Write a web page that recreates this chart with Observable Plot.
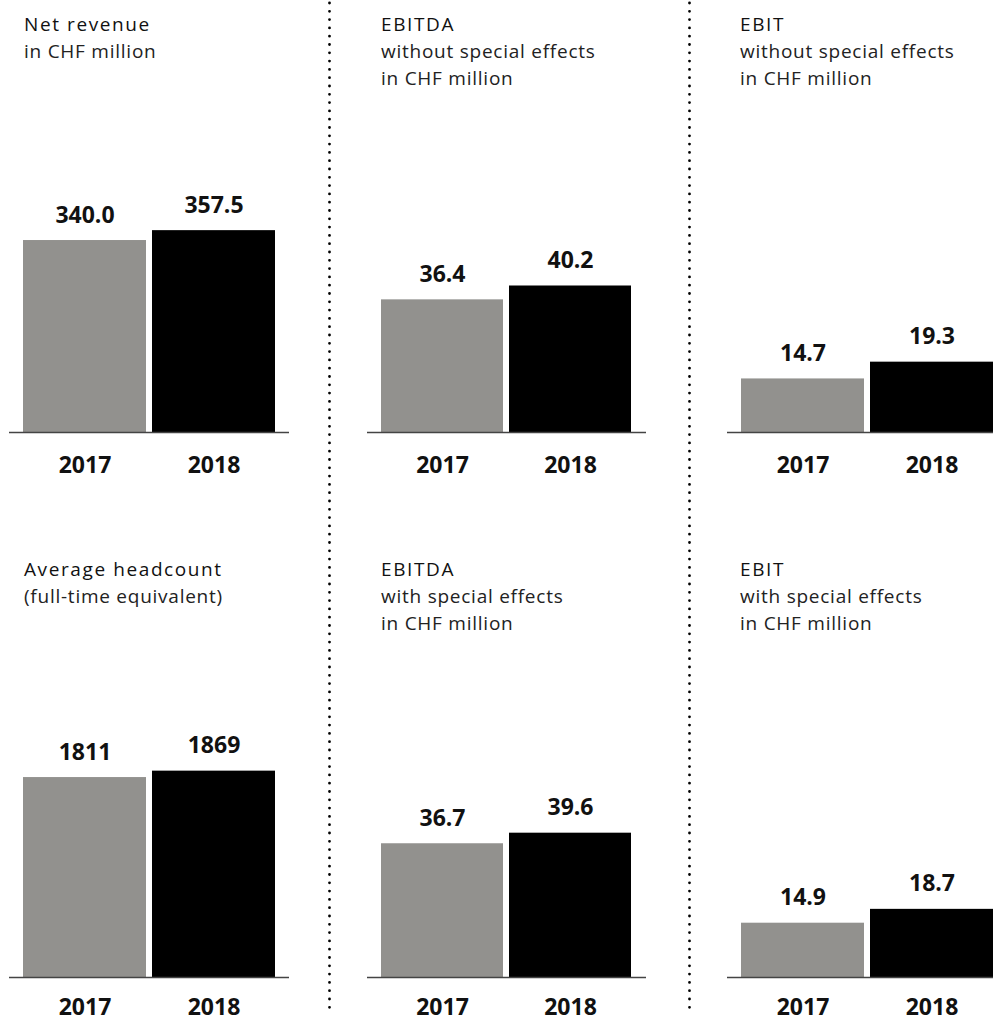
<!DOCTYPE html>
<html>
<head>
<meta charset="utf-8">
<script src="https://cdn.jsdelivr.net/npm/d3@7"></script>
<script src="https://cdn.jsdelivr.net/npm/@observablehq/plot@0.6"></script>
<style>
html, body { margin: 0; padding: 0; background: #fff; overflow: hidden; }
#root { position: relative; width: 993px; height: 1015px; overflow: hidden; font-family: "Open Sans", sans-serif; }
.title { position: absolute; font-size: 19px; line-height: 27px; white-space: nowrap; }
.title .main { color: #111; font-weight: 500; letter-spacing: 1.6px; }
.title .sub { color: #222; font-weight: 400; letter-spacing: 0.75px; }
.panel { position: absolute; }
.sep { position: absolute; left: 0; top: 0; }
</style>
</head>
<body>
<div id="root"></div>
<script>
// ---- data ----
const years = ["2017", "2018"];
const netRevenue = [340.0, 357.5];
const ebitdaWithout = [36.4, 40.2];
const ebitWithout = [14.7, 19.3];
const headcount = [1811, 1869];
const ebitdaWith = [36.7, 39.6];
const ebitWith = [14.9, 18.7];

const titleNetRevenue = ["Net revenue", "in CHF million"];
const titleEbitdaWithout = ["EBITDA", "without special effects", "in CHF million"];
const titleEbitWithout = ["EBIT", "without special effects", "in CHF million"];
const titleHeadcount = ["Average headcount", "(full-time equivalent)"];
const titleEbitdaWith = ["EBITDA", "with special effects", "in CHF million"];
const titleEbitWith = ["EBIT", "with special effects", "in CHF million"];

const barColors = ["#92918e", "#000000"];

// ---- layout ----
const colLeft = [0, 331, 690];
const colWidth = [331, 359, 330];
const colMarginLeft = [9, 36, 37];
const colMarginRight = [42, 44, 13];
const colTitleLeft = [24, 381, 740];
const rowSvgTop = [100, 645];
const rowTitleTop = [11, 556];
const rowTickPadding = [24, 21];
const svgHeight = 390;
const marginBottom = 58;

const panels = [
  {values: netRevenue, title: titleNetRevenue, yMax: 588, digits: 1, row: 0, col: 0},
  {values: ebitdaWithout, title: titleEbitdaWithout, yMax: 91.1, digits: 1, row: 0, col: 1},
  {values: ebitWithout, title: titleEbitWithout, yMax: 91.1, digits: 1, row: 0, col: 2},
  {values: headcount, title: titleHeadcount, yMax: 3007, digits: 0, row: 1, col: 0},
  {values: ebitdaWith, title: titleEbitdaWith, yMax: 91.1, digits: 1, row: 1, col: 1},
  {values: ebitWith, title: titleEbitWith, yMax: 91.1, digits: 1, row: 1, col: 2}
];

const root = document.getElementById("root");

for (const p of panels) {
  const data = years.map((y, i) => ({year: y, value: p.values[i]}));
  const chart = Plot.plot({
    width: colWidth[p.col],
    height: svgHeight,
    marginLeft: colMarginLeft[p.col],
    marginRight: colMarginRight[p.col],
    marginTop: 0,
    marginBottom: marginBottom,
    style: {fontFamily: "'Open Sans', sans-serif", background: "transparent", overflow: "visible", color: "#111"},
    x: {type: "band", domain: years, paddingInner: 0.0465, paddingOuter: 0.1085, label: null},
    y: {domain: [0, p.yMax], axis: null},
    color: {domain: years, range: barColors},
    marks: [
      Plot.barY(data, {x: "year", y: "value", fill: "year"}),
      Plot.ruleY([0], {stroke: "#444", strokeWidth: 1.5}),
      Plot.text(data, {
        x: "year", y: "value",
        text: d => d.value.toFixed(p.digits),
        lineAnchor: "bottom", dy: -18,
        fontSize: 23, fontWeight: "bold", fill: "#111"
      }),
      Plot.axisX({tickSize: 0, tickPadding: rowTickPadding[p.row], fontSize: 23, fontWeight: "bold", label: null, fill: "#111"})
    ]
  });
  chart.classList.add("panel");
  chart.style.left = colLeft[p.col] + "px";
  chart.style.top = rowSvgTop[p.row] + "px";
  root.appendChild(chart);

  const t = document.createElement("div");
  t.className = "title";
  t.style.left = colTitleLeft[p.col] + "px";
  t.style.top = rowTitleTop[p.row] + "px";
  p.title.forEach((line, i) => {
    const d = document.createElement("div");
    d.className = i === 0 ? "main" : "sub";
    d.textContent = line;
    t.appendChild(d);
  });
  root.appendChild(t);
}

// dotted separators
const ns = "http://www.w3.org/2000/svg";
const sep = document.createElementNS(ns, "svg");
sep.setAttribute("width", 993);
sep.setAttribute("height", 1015);
sep.setAttribute("class", "sep");
for (const x of [329.5, 689.5]) {
  const l = document.createElementNS(ns, "line");
  l.setAttribute("x1", x); l.setAttribute("x2", x);
  l.setAttribute("y1", 3); l.setAttribute("y2", 1015);
  l.setAttribute("stroke", "#000");
  l.setAttribute("stroke-width", 2.8);
  l.setAttribute("stroke-linecap", "round");
  l.setAttribute("stroke-dasharray", "0 8.3");
  sep.appendChild(l);
}
root.appendChild(sep);
</script>
</body>
</html>
